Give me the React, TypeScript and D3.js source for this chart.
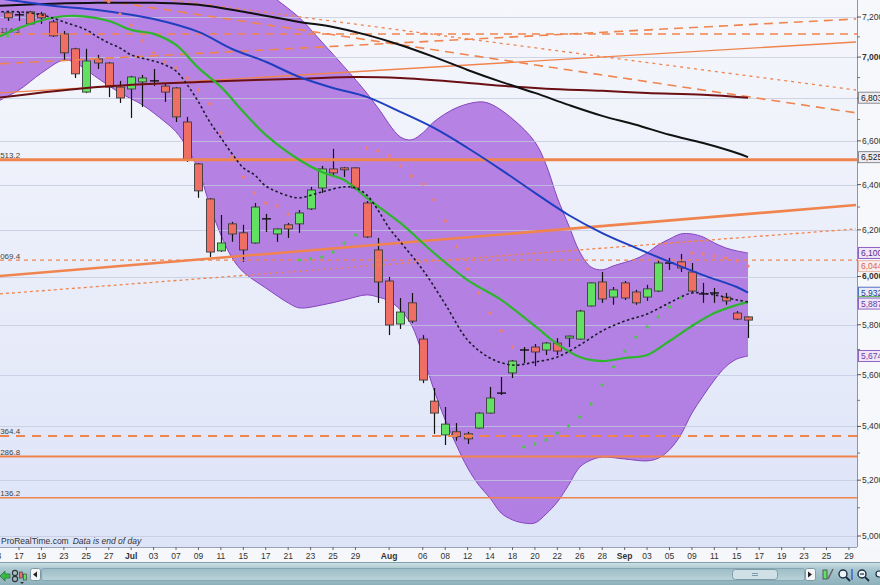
import React from "react";
import * as d3 from "d3";

type Pt = [number, number];

// trading-day index: 0 = 16 Jun 2014 ... 66 = 16 Sep, axis runs to 75 = 29 Sep
const tickIdx = [-1, 1, 3, 5, 7, 9, 11, 13, 15, 17, 19, 21, 23, 25, 27, 29, 31, 34, 37, 39, 41, 43, 45, 47, 49, 51, 53, 55, 57, 59, 61, 63, 65, 67, 69, 71, 73, 75];
const tickLbl = ["13", "17", "19", "23", "25", "27", "Jul", "03", "07", "09", "11", "15", "17", "21", "23", "25", "29", "Aug", "06", "08", "12", "14", "18", "20", "22", "26", "28", "Sep", "03", "05", "09", "11", "15", "17", "19", "23", "25", "29"];
const monthLbl = ["Jul", "Aug", "Sep"];

// daily candles
const opens = [
  7221, 7211, 7226, 7216, 7175, 7115, 7041, 6830, 6991, 6971,
  6854, 6845, 6879, 6884, 6859, 6850, 6688, 6494, 6336, 6109,
  6226, 6187, 6143, 6248, 6182, 6222, 6226, 6292, 6385, 6471,
  6476, 6476, 6318, 6113, 5981, 5803, 5890, 5742, 5497, 5368,
  5380, 5372, 5394, 5451, 5528, 5607, 5698, 5710, 5698, 5726,
  5746, 5742, 5877, 5977, 5914, 5973, 5935, 5914, 5939, 6057,
  6062, 6019, 5927, 5931, 5914, 5848, 5832,
];
const highs = [
  7231, 7226, 7231, 7226, 7185, 7130, 7046, 7041, 7011, 6975,
  6884, 6908, 6913, 6942, 6874, 6854, 6712, 6498, 6340, 6265,
  6235, 6222, 6318, 6270, 6206, 6230, 6287, 6390, 6485, 6563,
  6480, 6478, 6327, 6165, 5998, 5910, 5931, 5758, 5548, 5474,
  5413, 5380, 5454, 5552, 5591, 5658, 5710, 5722, 5730, 5746,
  5756, 5861, 5975, 6019, 5956, 5981, 5944, 5965, 6070, 6079,
  6096, 6057, 5973, 5952, 5931, 5856, 5834,
];
const lows = [
  7180, 7180, 7160, 7165, 7100, 6981, 6898, 6825, 6942, 6806,
  6778, 6707, 6759, 6859, 6783, 6688, 6503, 6341, 6083, 6105,
  6148, 6062, 6140, 6191, 6148, 6165, 6187, 6287, 6363, 6435,
  6435, 6376, 6165, 5890, 5758, 5783, 5807, 5567, 5372, 5330,
  5346, 5334, 5392, 5449, 5521, 5587, 5646, 5634, 5678, 5678,
  5710, 5740, 5875, 5890, 5882, 5902, 5882, 5898, 5935, 6028,
  6019, 5931, 5890, 5890, 5882, 5819, 5746,
];
const closes = [
  7196, 7211, 7165, 7196, 7105, 7021, 6918, 6981, 6971, 6854,
  6802, 6903, 6898, 6884, 6830, 6712, 6517, 6372, 6104, 6143,
  6182, 6113, 6300, 6248, 6204, 6204, 6274, 6376, 6471, 6453,
  6467, 6385, 6169, 5977, 5799, 5852, 5815, 5579, 5451, 5409,
  5361, 5353, 5451, 5509, 5528, 5654, 5698, 5690, 5726, 5694,
  5754, 5856, 5973, 5906, 5944, 5910, 5890, 5948, 6057, 6057,
  6036, 5939, 5927, 5931, 5898, 5823, 5819,
];

// indicators: [day index, value]
const bbUpper: Pt[] = [[-1, 7480], [5, 7470], [10, 7450], [15, 7420], [20, 7370], [23, 7330], [24, 7287], [26, 7196], [28, 7075], [30, 6952], [32, 6826], [33, 6755], [35, 6618], [36, 6605], [37, 6637], [38, 6689], [40, 6755], [42, 6783], [43, 6774], [45, 6703], [47, 6595], [48, 6490], [49, 6341], [50, 6221], [51, 6104], [52, 6040], [53, 6028], [54, 6045], [56, 6075], [57, 6100], [58, 6135], [59, 6160], [60, 6182], [61, 6182], [62, 6169], [63, 6143], [64, 6122], [65, 6109], [66, 6100]];
const bbLower: Pt[] = [[-1, 6783], [1, 6840], [3, 6922], [5, 6986], [6, 6972], [8, 6898], [10, 6826], [12, 6769], [14, 6689], [15, 6642], [16, 6567], [17, 6467], [18, 6309], [19, 6178], [20, 6079], [21, 6019], [23, 5952], [25, 5890], [26, 5869], [28, 5881], [30, 5902], [32, 5923], [33, 5914], [34, 5898], [35, 5861], [36, 5799], [37, 5678], [38, 5540], [39, 5425], [40, 5330], [41, 5245], [42, 5182], [43, 5135], [44, 5081], [45, 5057], [46, 5046], [47, 5046], [48, 5078], [49, 5121], [50, 5182], [51, 5248], [52, 5274], [53, 5285], [55, 5278], [57, 5271], [58, 5281], [59, 5312], [60, 5368], [61, 5451], [62, 5517], [63, 5579], [64, 5631], [65, 5662], [66, 5674]];
const maFast: Pt[] = [[-1, 7226], [1, 7226], [3, 7211], [5, 7175], [7, 7135], [8, 7100], [9, 7070], [10, 7045], [11, 7011], [13, 6981], [14, 6962], [15, 6932], [16, 6865], [17, 6783], [18, 6689], [19, 6614], [20, 6540], [21, 6476], [22, 6444], [23, 6394], [25, 6350], [26, 6341], [28, 6367], [30, 6390], [31, 6385], [32, 6354], [33, 6287], [34, 6208], [35, 6148], [37, 6028], [39, 5885], [41, 5738], [43, 5666], [45, 5638], [47, 5650], [49, 5670], [51, 5718], [53, 5775], [55, 5815], [57, 5844], [59, 5890], [61, 5931], [63, 5923], [65, 5902], [66, 5894]];
const ma20: Pt[] = [[-1, 7095], [1, 7145], [4, 7196], [6, 7206], [9, 7180], [11, 7135], [13, 7115], [15, 7060], [17, 6947], [19, 6855], [21, 6736], [23, 6628], [26, 6512], [28, 6457], [30, 6421], [32, 6341], [35, 6230], [38, 6100], [41, 5985], [44, 5902], [47, 5795], [49, 5722], [51, 5670], [53, 5654], [55, 5666], [57, 5678], [59, 5734], [61, 5795], [63, 5848], [65, 5881], [66, 5893]];
const ma50: Pt[] = [[-1, 7297], [4, 7257], [8, 7236], [13, 7190], [17, 7125], [20, 7040], [23, 6977], [26, 6903], [29, 6850], [32, 6807], [35, 6736], [38, 6660], [41, 6567], [44, 6467], [47, 6363], [50, 6265], [53, 6186], [56, 6122], [59, 6062], [62, 6006], [65, 5956], [66, 5932]];
const ma100: Pt[] = [[-1, 7257], [4, 7267], [8, 7272], [13, 7272], [17, 7262], [22, 7216], [26, 7175], [29, 7150], [32, 7110], [35, 7060], [38, 7001], [41, 6937], [44, 6879], [47, 6826], [50, 6769], [53, 6717], [56, 6675], [59, 6628], [62, 6590], [65, 6544], [66, 6525]];
const ma200: Pt[] = [[-1, 6802], [8, 6855], [17, 6879], [26, 6894], [31, 6903], [35, 6898], [40, 6879], [44, 6860], [48, 6846], [53, 6836], [57, 6826], [62, 6817], [66, 6803]];
const sarBelow: Pt[] = [[0, 7105], [26, 6070], [27, 6075], [28, 6083], [29, 6104], [30, 6143], [31, 6178], [46, 5323], [47, 5334], [48, 5349], [49, 5375], [50, 5402], [51, 5436], [52, 5486], [53, 5560], [54, 5631], [55, 5694], [56, 5750], [57, 5791], [58, 5832], [59, 5873], [60, 5910]];
const sarAbove: Pt[] = [[9, 7277], [10, 7216], [11, 7160], [12, 7080], [13, 7021], [14, 6977], [15, 6947], [16, 6898], [17, 6840], [18, 6774], [19, 6637], [20, 6526], [21, 6435], [22, 6363], [23, 6318], [24, 6305], [25, 6269], [32, 6567], [33, 6553], [34, 6530], [35, 6485], [36, 6439], [37, 6403], [38, 6332], [39, 6239], [40, 6126], [41, 6032], [42, 5931], [43, 5848], [44, 5775], [45, 5710], [61, 6100], [62, 6096], [63, 6087], [64, 6079], [65, 6066], [66, 6044]];

// horizontal levels and trendlines
const levels = [7114.3, 6513.2, 6069.4, 5364.4, 5286.8, 5136.2];
const trendRiseDash: Pt[] = [[-0.7, 6967], [75.63, 7190]];
const trendFallDash: Pt[] = [[-0.7, 7364], [75.63, 6731]];
const trendFallDot: Pt[] = [[-0.7, 7403], [75.63, 6840]];
const trendRiseThin: Pt[] = [[-0.7, 6826], [75.63, 7075]];
const trendRiseThick: Pt[] = [[-0.7, 6002], [75.63, 6309]];
const trendRiseDot: Pt[] = [[-0.7, 5927], [75.63, 6204]];

// last-value tags on the price axis
const tagValues = [6803, 6525, 6100, 6044, 5932, 5893, 5887, 5674];

const FONT = "'Liberation Sans', Arial, sans-serif";
const ORANGE = "#f0844e";

const levelStyle = [
  { dash: "8,6", w: 1.6 },
  { dash: "", w: 3 },
  { dash: "4,4", w: 1.4 },
  { dash: "9,7", w: 2 },
  { dash: "", w: 2 },
  { dash: "", w: 1.5 },
];
const tagStyle = [
  { stroke: "#8c8c94", fill: "#ececf1", text: "#222" },
  { stroke: "#8c8c94", fill: "#ececf1", text: "#222" },
  { stroke: "#9163c4", fill: "#efe7f8", text: "#5a2a90" },
  { stroke: "#e9b4aa", fill: "#f7eeee", text: "#e0604e" },
  { stroke: "#5670c2", fill: "#e8ecf8", text: "#1f3fa0" },
  { stroke: "#55b055", fill: "#e8f5e8", text: "#1f8f1f" },
  { stroke: "#9163c4", fill: "#efe7f8", text: "#6a3aa8" },
  { stroke: "#9163c4", fill: "#efe7f8", text: "#6a3aa8" },
];

export default function App() {
  const W = 880;
  const H = 585;
  const R = 857;
  const B = 547;

  const x = d3.scaleLinear().domain([0, 66]).range([7.8, 748]);
  const y = d3.scaleLog().domain([5000, 7200]).range([536, 17]);

  const smooth = d3
    .line<Pt>()
    .x((d) => x(d[0]))
    .y((d) => y(d[1]))
    .curve(d3.curveCatmullRom.alpha(0.5));
  const straight = d3
    .line<Pt>()
    .x((d) => x(d[0]))
    .y((d) => y(d[1]));

  const upPath = smooth(bbUpper) as string;
  const loPath = smooth(bbUpper.length ? bbLower : []) as string;
  const loRev = smooth(bbLower.slice().reverse()) as string;
  const bandPath = upPath + "L" + loRev.slice(1) + "Z";

  const majors = d3.range(5000, 7201, 200);
  const minors = d3.range(5100, 7200, 200);
  const fmt = d3.format(",");

  const trends = [
    { pts: trendRiseDash, dash: "9,6", w: 1.6 },
    { pts: trendFallDash, dash: "9,6", w: 1.6 },
    { pts: trendFallDot, dash: "3,4", w: 1.3 },
    { pts: trendRiseThin, dash: "", w: 1.4 },
    { pts: trendRiseThick, dash: "", w: 2.6 },
    { pts: trendRiseDot, dash: "3,3", w: 1.3 },
  ];

  return (
    <div style={{ position: "fixed", left: 0, top: 0 }}>
      <svg width={W} height={H} style={{ display: "block", fontFamily: FONT }}>
        <defs>
          <linearGradient id="bg" x1="0" y1="0" x2="0" y2="1">
            <stop offset="0%" stopColor="#f6f7fc" />
            <stop offset="100%" stopColor="#dde4f8" />
          </linearGradient>
          <linearGradient id="tb" x1="0" y1="0" x2="0" y2="1">
            <stop offset="0%" stopColor="#d3e4e9" />
            <stop offset="30%" stopColor="#a9c7cf" />
            <stop offset="100%" stopColor="#8db1bc" />
          </linearGradient>
          <linearGradient id="trk" x1="0" y1="0" x2="0" y2="1">
            <stop offset="0%" stopColor="#9dbcc6" />
            <stop offset="100%" stopColor="#b9d3da" />
          </linearGradient>
          <clipPath id="plot">
            <rect x={0} y={0} width={R} height={B} />
          </clipPath>
        </defs>

        <rect x={0} y={0} width={W} height={H} fill="#f7f8fb" />
        <rect x={0} y={0} width={R} height={B} fill="url(#bg)" />

        <g clipPath="url(#plot)">
          {/* bollinger envelope */}
          <path d={bandPath} fill="#a35fdc" fillOpacity={0.76} />
          <path d={upPath} fill="none" stroke="#8544c0" strokeWidth={1} />
          <path d={loPath} fill="none" stroke="#8544c0" strokeWidth={1} />

          {majors.map((v) => (
            <line key={v} x1={0} x2={R} y1={Math.round(y(v)) + 0.5} y2={Math.round(y(v)) + 0.5} stroke="#c2c9de" strokeOpacity={0.75} />
          ))}

          {/* candles */}
          {opens.map((o, i) => {
            const c = closes[i];
            const cx = Math.round(x(i)) + 0.5;
            const top = y(Math.max(o, c));
            const bot = y(Math.min(o, c));
            const doji = bot - top < 1.2;
            return (
              <g key={i}>
                <line x1={cx} x2={cx} y1={y(highs[i])} y2={y(lows[i])} stroke="#111" strokeWidth={1.2} />
                {doji ? (
                  <line x1={cx - 4.5} x2={cx + 4.5} y1={top} y2={top} stroke="#111" strokeWidth={1.4} />
                ) : (
                  <rect x={cx - 4} y={top} width={8} height={bot - top} fill={c > o ? "#62e062" : "#ef6f64"} stroke="#3c3c3c" strokeWidth={0.9} />
                )}
              </g>
            );
          })}

          {/* support / resistance */}
          {levels.map((v, i) => (
            <line key={v} x1={0} x2={R} y1={y(v)} y2={y(v)} stroke={ORANGE} strokeWidth={levelStyle[i].w} strokeDasharray={levelStyle[i].dash} />
          ))}
          {trends.map((t, i) => (
            <path key={i} d={straight(t.pts) as string} fill="none" stroke={ORANGE} strokeWidth={t.w} strokeDasharray={t.dash} />
          ))}
          {levels.map((v) => (
            <text key={v} x={-6.5} y={y(v) - 1.5} fontSize={8} fill="#444">
              {d3.format(",.1f")(v)}
            </text>
          ))}

          {/* moving averages */}
          <path d={smooth(ma200) as string} fill="none" stroke="#6a0f14" strokeWidth={2} />
          <path d={smooth(ma100) as string} fill="none" stroke="#111" strokeWidth={2} />
          <path d={smooth(ma50) as string} fill="none" stroke="#1f3fbf" strokeWidth={2} />
          <path d={smooth(ma20) as string} fill="none" stroke="#2db52d" strokeWidth={2.2} />
          <path d={smooth(maFast) as string} fill="none" stroke="#1b1b2e" strokeWidth={1.6} strokeDasharray="2.5,2.5" />

          {/* parabolic SAR */}
          {sarAbove.map((d) => (
            <circle key={"a" + d[0]} cx={x(d[0])} cy={y(d[1])} r={1.7} fill="#ef7f72" />
          ))}
          {sarBelow.map((d) => (
            <circle key={"b" + d[0]} cx={x(d[0])} cy={y(d[1])} r={1.7} fill="#55c055" />
          ))}

          <text x={1} y={544} fontSize={8.5} fill="#333">
            ProRealTime.com
            <tspan dx={4} fontStyle="italic">
              Data is end of day
            </tspan>
          </text>
        </g>

        {/* price axis */}
        <line x1={R + 0.5} x2={R + 0.5} y1={0} y2={B} stroke="#8d96a8" />
        {minors.map((v) => (
          <line key={v} x1={R} x2={R + 3} y1={y(v)} y2={y(v)} stroke="#777" />
        ))}
        {majors.map((v) => (
          <g key={v}>
            <line x1={R} x2={R + 4} y1={y(v)} y2={y(v)} stroke="#555" />
            <text x={R + 5} y={y(v)} dy="0.35em" fontSize={8.5} fill="#333" fontWeight={v % 1000 === 0 && v > 5000 ? "bold" : "normal"}>
              {fmt(v)}
            </text>
          </g>
        ))}
        {tagValues.map((v, i) => (
          <g key={i}>
            <rect x={R + 1.5} y={y(v) - 5.5} width={24} height={11} fill={tagStyle[i].fill} stroke={tagStyle[i].stroke} />
            <text x={R + 4} y={y(v)} dy="0.35em" fontSize={8.5} fill={tagStyle[i].text}>
              {fmt(v)}
            </text>
          </g>
        ))}

        {/* time axis */}
        <rect x={0} y={B} width={W} height={15} fill="#f6f7fa" />
        <line x1={0} x2={R} y1={B + 0.5} y2={B + 0.5} stroke="#9aa3b5" />
        {tickIdx.map((t, i) => (
          <g key={i}>
            <line x1={x(t)} x2={x(t)} y1={B} y2={B + 3} stroke="#666" />
            <text x={x(t)} y={559} textAnchor="middle" fontSize={8.5} fill="#333" fontWeight={monthLbl.includes(tickLbl[i]) ? "bold" : "normal"}>
              {tickLbl[i]}
            </text>
          </g>
        ))}

        {/* toolbar */}
        <rect x={0} y={562} width={W} height={23} fill="url(#tb)" />
        <line x1={0} x2={W} y1={562.5} y2={562.5} stroke="#7e9ea9" />
        <polygon points="0,576 5,571 5,574 10,574 10,578 5,578 5,581" fill="#3cb84a" stroke="#1c6a2a" strokeWidth={0.7} />
        <circle cx={15} cy={573} r={2.6} fill="none" stroke="#333" strokeWidth={1.1} />
        <circle cx={15} cy={579} r={2.6} fill="none" stroke="#333" strokeWidth={1.1} />
        <rect x={19.5} y={572} width={3} height={6} fill="#ef6f64" stroke="#333" strokeWidth={0.6} />
        <rect x={23.5} y={574} width={3} height={6} fill="#62e062" stroke="#333" strokeWidth={0.6} />
        <polygon points="20,582 24,582 22,584" fill="#333" />
        <rect x={30.5} y={568.5} width={10} height={12} rx={2} fill="#f3f6f7" stroke="#7e99a3" />
        <polygon points="33,574.5 37,571.5 37,577.5" fill="#222" />
        <rect x={41.5} y={568.5} width={763} height={12} rx={2} fill="url(#trk)" stroke="#86a6b1" />
        <rect x={732.5} y={569.5} width={45} height={10} rx={3} fill="#cfe1e6" stroke="#7d9ca8" />
        <line x1={752} x2={758} y1={573.5} y2={573.5} stroke="#7d9ca8" />
        <line x1={752} x2={758} y1={575.5} y2={575.5} stroke="#7d9ca8" />
        <rect x={805.5} y={568.5} width={10} height={12} rx={2} fill="#f3f6f7" stroke="#7e99a3" />
        <polygon points="812,574.5 808,571.5 808,577.5" fill="#222" />
        <rect x={823} y={570} width={4} height={9} fill="#62e062" stroke="#333" strokeWidth={0.7} />
        <line x1={828} x2={833} y1={579} y2={569} stroke="#666" strokeWidth={1.6} />
        <circle cx={843} cy={574} r={4} fill="#eef4f6" stroke="#1b2d44" strokeWidth={1.4} />
        <line x1={846} x2={850} y1={577} y2={581} stroke="#1b2d44" strokeWidth={1.8} />
        <line x1={852} x2={852} y1={569} y2={580} stroke="#1e50c8" strokeWidth={1.2} />
        <circle cx={862} cy={574} r={4} fill="#eef4f6" stroke="#1b2d44" strokeWidth={1.4} />
        <line x1={865} x2={869} y1={577} y2={581} stroke="#1b2d44" strokeWidth={1.8} />
        <line x1={860} x2={864} y1={574} y2={574} stroke="#1b2d44" strokeWidth={1.2} />
        <circle cx={879} cy={574} r={3} fill="#eef4f6" stroke="#1b2d44" strokeWidth={1.2} />
      </svg>
    </div>
  );
}
